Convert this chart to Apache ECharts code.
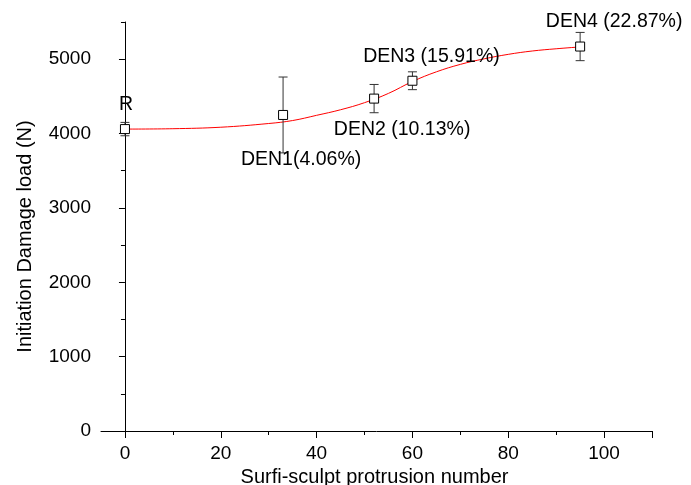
<!DOCTYPE html>
<html><head><meta charset="utf-8">
<script src="https://cdn.jsdelivr.net/npm/echarts@6/dist/echarts.min.js"></script>
<style>html,body{margin:0;padding:0;background:#fff}#c{width:691px;height:485px}</style>
</head><body><div id="c"></div>
<script>
// Data
const names = ['R', 'DEN1(4.06%)', 'DEN2 (10.13%)', 'DEN3 (15.91%)', 'DEN4 (22.87%)'];
const protrusion = [0, 33, 52, 60, 95];
const load = [4060, 4250, 4470, 4710, 5170];
const loadErr = [90, 510, 190, 120, 190];
const fitX = [0, 10, 20, 30, 35, 40, 45, 50, 55, 60, 65, 70, 75, 80, 85, 90, 95];
const fitY = [4060, 4065, 4085, 4135, 4175, 4245, 4320, 4415, 4540, 4700, 4830, 4930, 5005, 5065, 5110, 5140, 5165];
const xLabels = [0, 20, 40, 60, 80, 100];
const xMinor = [10, 30, 50, 70, 90];
const yLabels = [0, 1000, 2000, 3000, 4000, 5000];
const yMinor = [500, 1500, 2500, 3500, 4500, 5500];

// label placement (styling, pixels)
const labelOffsets = [[1, -24], [18, 45], [28, 31], [19, -24], [34, -25]];

const font = 'Liberation Sans, Arial, sans-serif';
const fs = 19.5;
const fsTick = 19;
const fsName = 20;
const chart = echarts.init(document.getElementById('c'), null, {renderer: 'canvas'});

const scatterData = protrusion.map((x, i) => ({
  value: [x, load[i]],
  label: {show: true, position: 'inside', offset: labelOffsets[i], formatter: names[i]}
}));
const errData = protrusion.map((x, i) => [x, load[i] - loadErr[i], load[i] + loadErr[i]]);

const axisCommon = {
  axisLine: {show: true, lineStyle: {color: '#000', width: 1}},
  splitLine: {show: false}
};

chart.setOption({
  animation: false,
  backgroundColor: '#fff',
  grid: {left: 101, right: 39, top: 22, bottom: 54, outerBoundsMode: 'none', containLabel: false},
  xAxis: [{
    type: 'value', min: -5, max: 110,
    ...axisCommon,
    axisTick: {show: true, length: 7, customValues: xLabels.concat([110]), lineStyle: {color: '#000'}},
    axisLabel: {customValues: xLabels, color: '#000', fontSize: fsTick, fontFamily: font, margin: 13,
      formatter: v => String(v)},
    name: 'Surfi-sculpt protrusion number', nameLocation: 'middle', nameGap: 36,
    nameTextStyle: {color: '#000', fontSize: fsName, fontFamily: font, padding: [0, 4, 0, 0]}
  }, {
    type: 'value', min: -5, max: 110, position: 'bottom',
    axisLine: {show: false}, splitLine: {show: false},
    axisTick: {show: true, length: 4, customValues: xMinor, lineStyle: {color: '#000'}},
    axisLabel: {show: false}
  }],
  yAxis: [{
    type: 'value', min: 0, max: 5500,
    ...axisCommon,
    axisTick: {show: true, length: 6, customValues: yLabels, lineStyle: {color: '#000'}},
    axisLabel: {customValues: yLabels, color: '#000', fontSize: fsTick, fontFamily: font, margin: 10,
      formatter: v => String(v)},
    name: 'Initiation Damage load (N)', nameLocation: 'middle', nameGap: 66,
    nameTextStyle: {color: '#000', fontSize: fsName, fontFamily: font, padding: [0, 20, 0, 0]}
  }, {
    type: 'value', min: 0, max: 5500, position: 'left',
    axisLine: {show: false}, splitLine: {show: false},
    axisTick: {show: true, length: 4, customValues: yMinor, lineStyle: {color: '#000'}},
    axisLabel: {show: false}
  }],
  series: [{
    type: 'line', name: 'fit', data: fitX.map((x, i) => [x, fitY[i]]),
    smooth: 0.4, showSymbol: false, symbol: 'none',
    lineStyle: {color: '#ff0000', width: 1}, z: 2
  }, {
    type: 'custom', name: 'err', data: errData,
    encode: {x: 0, y: [1, 2]},
    renderItem: function (params, api) {
      const x = api.value(0);
      const lo = api.coord([x, api.value(1)]);
      const hi = api.coord([x, api.value(2)]);
      const w = 4.5;
      const style = {stroke: '#333', lineWidth: 1};
      return {type: 'group', children: [
        {type: 'line', shape: {x1: lo[0], y1: lo[1], x2: hi[0], y2: hi[1]}, style},
        {type: 'line', shape: {x1: lo[0] - w, y1: lo[1], x2: lo[0] + w, y2: lo[1]}, style},
        {type: 'line', shape: {x1: hi[0] - w, y1: hi[1], x2: hi[0] + w, y2: hi[1]}, style}
      ]};
    }, z: 3
  }, {
    type: 'scatter', name: 'pts', data: scatterData,
    symbol: 'rect', symbolSize: 9,
    itemStyle: {color: '#fff', borderColor: '#000', borderWidth: 1, opacity: 1},
    label: {color: '#000', fontSize: fs, fontFamily: font},
    z: 4
  }]
});
</script></body></html>
